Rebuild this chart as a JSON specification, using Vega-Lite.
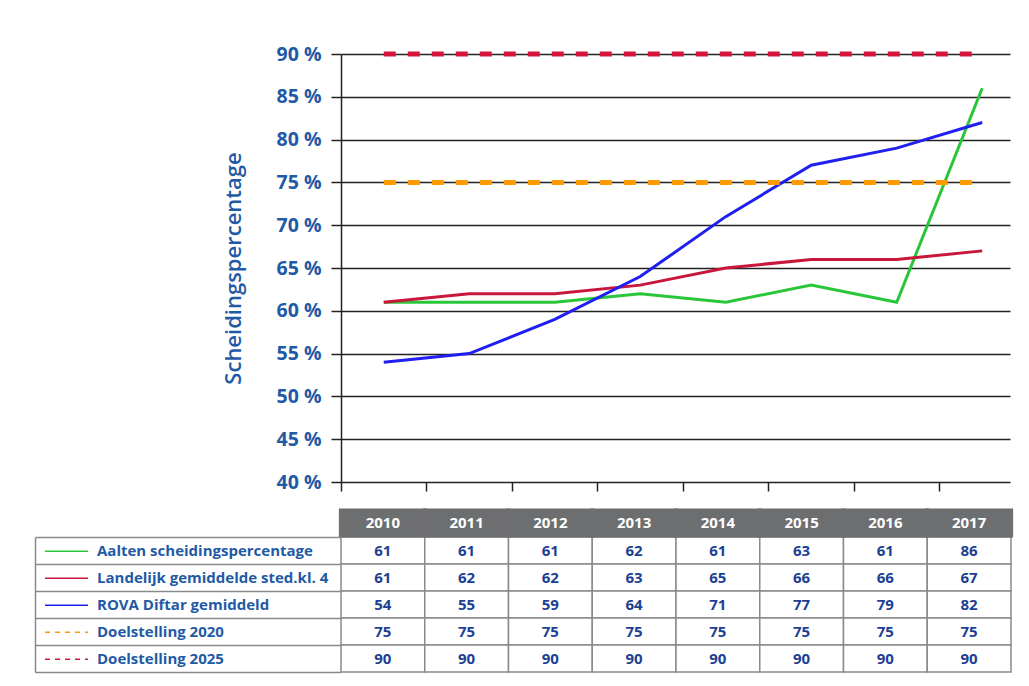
{
  "$schema": "https://vega.github.io/schema/vega-lite/v6.json",
  "background": "white",
  "padding": {"left": 34, "top": 44, "right": 4, "bottom": 4},
  "config": {"view": {"stroke": null}, "font": "Open Sans"},
  "datasets": {
    "d": [
      {"year": 2010, "series": "Aalten scheidingspercentage", "value": 61},
      {"year": 2011, "series": "Aalten scheidingspercentage", "value": 61},
      {"year": 2012, "series": "Aalten scheidingspercentage", "value": 61},
      {"year": 2013, "series": "Aalten scheidingspercentage", "value": 62},
      {"year": 2014, "series": "Aalten scheidingspercentage", "value": 61},
      {"year": 2015, "series": "Aalten scheidingspercentage", "value": 63},
      {"year": 2016, "series": "Aalten scheidingspercentage", "value": 61},
      {"year": 2017, "series": "Aalten scheidingspercentage", "value": 86},
      {"year": 2010, "series": "Landelijk gemiddelde sted.kl. 4", "value": 61},
      {"year": 2011, "series": "Landelijk gemiddelde sted.kl. 4", "value": 62},
      {"year": 2012, "series": "Landelijk gemiddelde sted.kl. 4", "value": 62},
      {"year": 2013, "series": "Landelijk gemiddelde sted.kl. 4", "value": 63},
      {"year": 2014, "series": "Landelijk gemiddelde sted.kl. 4", "value": 65},
      {"year": 2015, "series": "Landelijk gemiddelde sted.kl. 4", "value": 66},
      {"year": 2016, "series": "Landelijk gemiddelde sted.kl. 4", "value": 66},
      {"year": 2017, "series": "Landelijk gemiddelde sted.kl. 4", "value": 67},
      {"year": 2010, "series": "ROVA Diftar gemiddeld", "value": 54},
      {"year": 2011, "series": "ROVA Diftar gemiddeld", "value": 55},
      {"year": 2012, "series": "ROVA Diftar gemiddeld", "value": 59},
      {"year": 2013, "series": "ROVA Diftar gemiddeld", "value": 64},
      {"year": 2014, "series": "ROVA Diftar gemiddeld", "value": 71},
      {"year": 2015, "series": "ROVA Diftar gemiddeld", "value": 77},
      {"year": 2016, "series": "ROVA Diftar gemiddeld", "value": 79},
      {"year": 2017, "series": "ROVA Diftar gemiddeld", "value": 82},
      {"year": 2010, "series": "Doelstelling 2020", "value": 75},
      {"year": 2011, "series": "Doelstelling 2020", "value": 75},
      {"year": 2012, "series": "Doelstelling 2020", "value": 75},
      {"year": 2013, "series": "Doelstelling 2020", "value": 75},
      {"year": 2014, "series": "Doelstelling 2020", "value": 75},
      {"year": 2015, "series": "Doelstelling 2020", "value": 75},
      {"year": 2016, "series": "Doelstelling 2020", "value": 75},
      {"year": 2017, "series": "Doelstelling 2020", "value": 75},
      {"year": 2010, "series": "Doelstelling 2025", "value": 90},
      {"year": 2011, "series": "Doelstelling 2025", "value": 90},
      {"year": 2012, "series": "Doelstelling 2025", "value": 90},
      {"year": 2013, "series": "Doelstelling 2025", "value": 90},
      {"year": 2014, "series": "Doelstelling 2025", "value": 90},
      {"year": 2015, "series": "Doelstelling 2025", "value": 90},
      {"year": 2016, "series": "Doelstelling 2025", "value": 90},
      {"year": 2017, "series": "Doelstelling 2025", "value": 90}
    ]
  },
  "bounds": "flush",
  "spacing": 55,
  "resolve": {"legend": {"color": "independent"}},
  "vconcat": [
    {
      "width": 669,
      "height": 428,
      "data": {"name": "d"},
      "encoding": {
        "x": {
          "field": "year", "type": "quantitative",
          "scale": {"domain": [2009.5, 2017.325], "nice": false, "zero": false},
          "axis": {"values": [2009.5, 2010.5, 2011.5, 2012.5, 2013.5, 2014.5, 2015.5, 2016.5], "title": null, "labels": false, "domain": false, "ticks": true, "tickSize": 9, "tickColor": "#222222", "tickWidth": 1.5, "grid": false}
        },
        "y": {
          "field": "value", "type": "quantitative",
          "scale": {"domain": [40, 90], "nice": false, "zero": false},
          "axis": {
            "values": [40, 45, 50, 55, 60, 65, 70, 75, 80, 85, 90],
            "labelExpr": "datum.value + ' %'",
            "labelFontSize": 19.5, "labelFontWeight": "bold", "labelColor": "#1f5aa6", "labelFont": "Open Sans",
            "labelPadding": 10, "tickSize": 10, "tickColor": "#222222", "tickWidth": 1.5,
            "domain": true, "domainColor": "#222222", "domainWidth": 1.5,
            "grid": true, "gridColor": "#222222", "gridWidth": 1.5,
            "title": "Scheidingspercentage", "titleFontSize": 22, "titleColor": "#1f5aa6", "titleFontWeight": 600, "titleFont": "Open Sans", "titlePadding": 31
          }
        },
        "color": {
          "field": "series", "type": "nominal",
          "scale": {
            "domain": ["Aalten scheidingspercentage", "Landelijk gemiddelde sted.kl. 4", "ROVA Diftar gemiddeld", "Doelstelling 2020", "Doelstelling 2025"],
            "range": ["#2ac63a", "#c8173b", "#1f1ff0", "#ff9a00", "#d4163c"]
          },
          "legend": {
            "title": null, "orient": "none", "legendX": -297, "legendY": 483.8, "direction": "vertical",
            "symbolType": "stroke", "symbolSize": 1849, "symbolStrokeWidth": 1.5, "clipHeight": 26.9, "rowPadding": 0,
            "labelFontSize": 15, "labelFontWeight": "bold", "labelColor": "#1f5aa6", "labelFont": "Open Sans",
            "labelOffset": 8, "labelLimit": 400, "padding": 0, "offset": 0,
            "encode": {
              "symbols": {
                "update": {
                  "strokeDash": {"signal": "indexof(['Doelstelling 2020','Doelstelling 2025'], datum.value) >= 0 ? [5,5] : [1,0]"},
                  "strokeWidth": {"value": 1.5}
                }
              }
            }
          }
        }
      },
      "layer": [
        {
          "transform": [{"filter": {"field": "series", "oneOf": ["Aalten scheidingspercentage", "Landelijk gemiddelde sted.kl. 4", "ROVA Diftar gemiddeld"]}}],
          "mark": {"type": "line", "strokeWidth": 3}
        },
        {
          "transform": [{"filter": {"field": "series", "oneOf": ["Doelstelling 2020", "Doelstelling 2025"]}}],
          "mark": {"type": "line", "strokeWidth": 5, "strokeDash": [12, 12]}
        }
      ]
    },
    {
      "width": 670,
      "height": 135,
      "data": {"name": "d"},
      "encoding": {
        "x": {
          "field": "year", "type": "ordinal",
          "scale": {"paddingInner": 0, "paddingOuter": 0},
          "axis": {"orient": "top", "title": null, "domain": false, "ticks": true, "tickBand": "center", "tickRound": false, "tickSize": 29, "tickWidth": 88, "tickColor": "#6d6e70", "tickCap": "butt", "labelColor": "white", "labelFontWeight": "bold", "labelFontSize": 15, "labelFont": "Open Sans", "labelPadding": -14.5, "labelBaseline": "middle", "labelAngle": 0, "grid": false}
        },
        "y": {
          "field": "series", "type": "nominal",
          "sort": ["Aalten scheidingspercentage", "Landelijk gemiddelde sted.kl. 4", "ROVA Diftar gemiddeld", "Doelstelling 2020", "Doelstelling 2025"],
          "scale": {"paddingInner": 0, "paddingOuter": 0},
          "axis": {"orient": "left", "title": null, "labels": false, "domain": true, "domainColor": "#8a8a8a", "domainWidth": 1.5, "offset": 306, "ticks": true, "tickBand": "extent", "tickSize": -306, "tickColor": "#8a8a8a", "tickWidth": 1.5, "grid": false}
        }
      },
      "layer": [
        {"mark": {"type": "rect", "fill": "white", "stroke": "#8a8a8a", "strokeWidth": 1.5}},
        {"mark": {"type": "text", "fontSize": 15, "fontWeight": "bold", "color": "#1d3f94", "font": "Open Sans"}, "encoding": {"text": {"field": "value", "type": "quantitative"}}}
      ]
    }
  ]
}
